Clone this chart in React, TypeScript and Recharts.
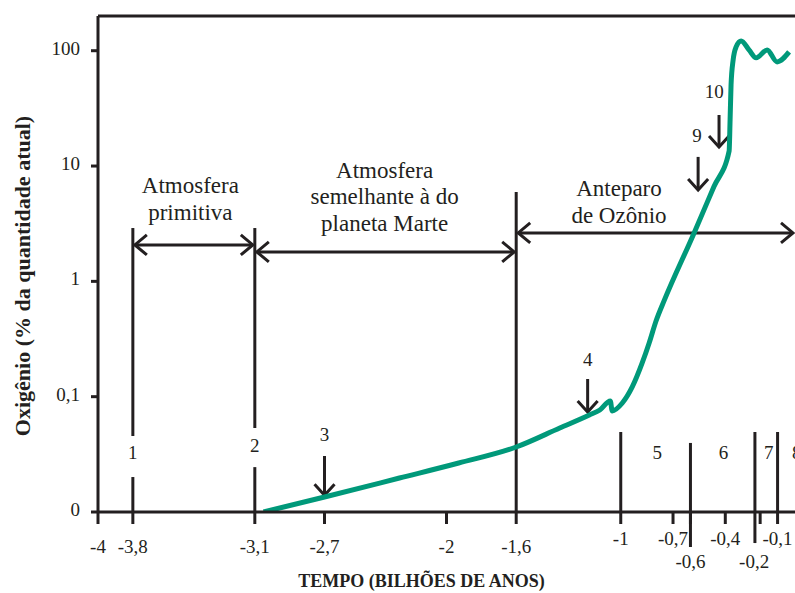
import { LineChart, Line, XAxis, YAxis, ReferenceLine, ReferenceDot } from 'recharts';

// ---------------------------------------------------------------------------
// Theme
// ---------------------------------------------------------------------------
const INK = '#231f20';
const GREEN = '#00997a';
const SERIF = '"Liberation Serif", "Times New Roman", serif';

// ---------------------------------------------------------------------------
// O2 curve: time (billions of years) vs % of present level.
// The "0" at the bottom of the log axis stands for 0.01 %.
// ---------------------------------------------------------------------------
const curveTime = [
  -3.05, -2.7, -2.27, -1.93, -1.6, -1.35, -1.18, -1.12, -1.06, -1.049, -0.991,
  -0.934, -0.877, -0.837, -0.797, -0.751, -0.579, -0.465, -0.378, -0.3725,
  -0.367, -0.355, -0.338, -0.309, -0.264, -0.223, -0.16, -0.103, -0.034,
];
const curveOxygen = [
  0.01, 0.0135, 0.0197, 0.0266, 0.0366, 0.0535, 0.0694, 0.0767, 0.0918, 0.0752,
  0.0881, 0.1214, 0.196, 0.292, 0.455, 0.68, 2.63, 6.65, 13.5, 25.1, 50.5,
  83.2, 108, 121.6, 101.6, 86.7, 101.6, 80, 97.7,
];

// axes
const X_DOMAIN = [-4, 0];
const Y_DOMAIN = [0.01, 200];
const xTicks = [-4, -3.8, -3.1, -2.7, -2, -1.6, -1, -0.7, -0.6, -0.4, -0.2, -0.1];
const xTicksRaised = [-1, -0.7, -0.4, -0.1];
const xTicksLowered = [-0.6, -0.2];
const yTicks = [0.01, 0.1, 1, 10, 100];
const yTickLabels = ['0', '0,1', '1', '10', '100'];

// vertical period dividers (time, bottom value, top value)
const dividerTime = [-3.8, -3.8, -3.1, -3.1, -1.6, -1, -0.6, -0.23, -0.1];
const dividerFrom = [0.01, 0.0456, 0.01, 0.0535, 0.01, 0.01, 0.00497, 0.00538, 0.01];
const dividerTo = [0.0201, 2.9, 0.0245, 2.9, 5.96, 0.0494, 0.0397, 0.0494, 0.0494];

// double-headed era arrows with their captions
const eraStart = [-3.8, -3.1, -1.6];
const eraEnd = [-3.1, -1.6, 0];
const eraLevel = [2.07, 1.8, 2.63];
const eraCaption = [
  ['Atmosfera', 'primitiva'],
  ['Atmosfera', 'semelhante à do', 'planeta Marte'],
  ['Anteparo', 'de Ozônio'],
];
const eraCaptionTime = [-3.47, -2.355, -1.01];
const eraCaptionLevel = [5.13, 5.33, 4.84];

// downward event arrows
const eventTime = [-2.7, -1.19, -0.556, -0.436];
const eventTop = [0.0306, 0.1424, 12.0, 27.7];
const eventTip = [0.014, 0.0737, 6.21, 14.6];

// numbered markers
const markerText = ['1', '2', '3', '4', '5', '6', '7', '9', '10'];
const markerTime = [-3.8, -3.1, -2.7, -1.19, -0.79, -0.41, -0.15, -0.562, -0.464];
const markerLevel = [0.0325, 0.0373, 0.0465, 0.208, 0.0325, 0.0325, 0.0325, 18.1, 43.5];

const curve = curveTime.map((t, i) => ({ t, o2: curveOxygen[i] }));

const fmt = (v: number) => String(v).replace('.', ',');

// ---------------------------------------------------------------------------
// Ticks
// ---------------------------------------------------------------------------
function TimeTick({ x, y, payload }: any) {
  const v = payload.value as number;
  const shift = xTicksLowered.includes(v) ? 42 : xTicksRaised.includes(v) ? 19 : 27;
  const nudge = v === -0.2 ? -6 : 0;
  return (
    <text x={x + nudge} y={y + shift} textAnchor="middle" fontFamily={SERIF} fontSize={19} fill={INK}>
      {fmt(v)}
    </text>
  );
}

function OxygenTick({ x, y, payload }: any) {
  const i = yTicks.indexOf(payload.value);
  return (
    <text x={x - 9} y={y + 4} textAnchor="end" fontFamily={SERIF} fontSize={19} fill={INK}>
      {yTickLabels[i]}
    </text>
  );
}

// ---------------------------------------------------------------------------
// Reference shapes
// ---------------------------------------------------------------------------
function SpanArrow({ x1, y1, x2 }: any) {
  const a = x1 + 2;
  const b = x2 - 2;
  const l = 12;
  const h = 10;
  return (
    <g stroke={INK} strokeWidth={3} fill="none" strokeLinejoin="miter">
      <line x1={a} y1={y1} x2={b} y2={y1} />
      <polyline points={`${a + l},${y1 - h} ${a},${y1} ${a + l},${y1 + h}`} />
      <polyline points={`${b - l},${y1 - h} ${b},${y1} ${b - l},${y1 + h}`} />
    </g>
  );
}

function DownArrow({ x1, y1, y2 }: any) {
  return (
    <g stroke={INK} strokeWidth={3} fill="none" strokeLinejoin="miter">
      <line x1={x1} y1={y1} x2={x1} y2={y2} />
      <polyline points={`${x1 - 10},${y2 - 11} ${x1},${y2} ${x1 + 10},${y2 - 11}`} />
    </g>
  );
}

const textBlock = (lines: string[], size: number, lead: number, anchor = 'middle', dx = 0) =>
  (p: any) => {
    const first = p.cy - ((lines.length - 1) * lead) / 2 + size * 0.3;
    return (
      <text
        x={p.cx + dx}
        y={first}
        textAnchor={anchor}
        fontFamily={SERIF}
        fontSize={size}
        fill={INK}
      >
        {lines.map((s, i) => (
          <tspan key={i} x={p.cx + dx} dy={i === 0 ? 0 : lead}>
            {s}
          </tspan>
        ))}
      </text>
    );
  };

// ---------------------------------------------------------------------------
// Component
// ---------------------------------------------------------------------------
export default function App() {
  return (
    <div style={{ position: 'fixed', left: 0, top: 0, width: 795, height: 593, background: '#fff' }}>
      <LineChart width={795} height={593} data={curve} margin={{ top: 16, right: 0, bottom: 0, left: 0 }}>
        <XAxis
          dataKey="t"
          type="number"
          domain={X_DOMAIN}
          allowDataOverflow
          ticks={xTicks}
          interval={0}
          height={81}
          tickSize={12}
          axisLine={{ stroke: INK, strokeWidth: 3 }}
          tickLine={{ stroke: INK, strokeWidth: 3 }}
          tick={<TimeTick />}
          label={{
            content: ({ viewBox }: any) => (
              <text
                x={viewBox.x + viewBox.width / 2 - 25}
                y={viewBox.y + 75}
                textAnchor="middle"
                fontFamily={SERIF}
                fontWeight={700}
                fontSize={18}
                fill={INK}
              >
                TEMPO (BILHÕES DE ANOS)
              </text>
            ),
          }}
        />
        <YAxis
          type="number"
          scale="log"
          domain={Y_DOMAIN}
          allowDataOverflow
          ticks={yTicks}
          interval={0}
          width={98}
          tickSize={7}
          axisLine={{ stroke: INK, strokeWidth: 3 }}
          tickLine={{ stroke: INK, strokeWidth: 3 }}
          tick={<OxygenTick />}
          label={{
            content: ({ viewBox }: any) => (
              <text
                transform={`translate(${viewBox.x + 30}, ${viewBox.y + viewBox.height / 2 + 12}) rotate(-90)`}
                textAnchor="middle"
                fontFamily={SERIF}
                fontWeight={700}
                fontSize={22}
                fill={INK}
              >
                Oxigênio (% da quantidade atual)
              </text>
            ),
          }}
        />

        {/* top frame */}
        <ReferenceLine y={Y_DOMAIN[1]} stroke={INK} strokeWidth={3} ifOverflow="visible" />

        {dividerTime.map((t, i) => (
          <ReferenceLine
            key={`d${i}`}
            segment={[{ x: t, y: dividerFrom[i] }, { x: t, y: dividerTo[i] }]}
            stroke={INK}
            strokeWidth={3}
            ifOverflow="visible"
          />
        ))}

        {eraStart.map((s, i) => (
          <ReferenceLine
            key={`e${i}`}
            segment={[{ x: s, y: eraLevel[i] }, { x: eraEnd[i], y: eraLevel[i] }]}
            ifOverflow="visible"
            shape={SpanArrow}
          />
        ))}
        {eraCaption.map((lines, i) => (
          <ReferenceDot
            key={`c${i}`}
            x={eraCaptionTime[i]}
            y={eraCaptionLevel[i]}
            ifOverflow="visible"
            shape={textBlock(lines, 23, 26.5)}
          />
        ))}

        {eventTime.map((t, i) => (
          <ReferenceLine
            key={`a${i}`}
            segment={[{ x: t, y: eventTop[i] }, { x: t, y: eventTip[i] }]}
            ifOverflow="visible"
            shape={DownArrow}
          />
        ))}
        {markerText.map((s, i) => (
          <ReferenceDot
            key={`m${i}`}
            x={markerTime[i]}
            y={markerLevel[i]}
            ifOverflow="visible"
            shape={textBlock([s], 19, 0)}
          />
        ))}
        <ReferenceDot x={0} y={0.0325} ifOverflow="visible" shape={textBlock(['8'], 19, 0, 'start', -3)} />

        <Line
          dataKey="o2"
          type="monotone"
          stroke={GREEN}
          strokeWidth={5}
          dot={false}
          activeDot={false}
          isAnimationActive={false}
        />
      </LineChart>
    </div>
  );
}
